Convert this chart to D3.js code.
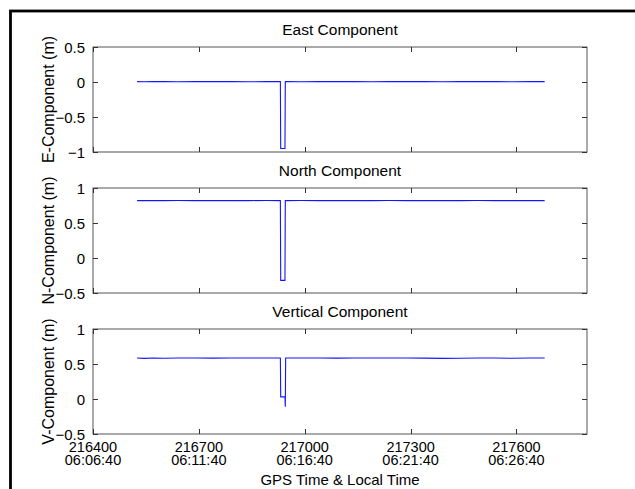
<!DOCTYPE html>
<html>
<head>
<meta charset="utf-8">
<script src="https://cdn.jsdelivr.net/npm/d3@7"></script>
<style>
  html, body { margin: 0; padding: 0; background: #fff; }
  svg { display: block; }
  text { font-family: "Liberation Sans", Arial, Helvetica, sans-serif; fill: #000; }
</style>
</head>
<body>
<svg id="chart" width="635" height="489"></svg>
<script>
// GPS time of each sample (seconds of week)
const gpsTime = [216525, 216545, 216570, 216600, 216640, 216690, 216740, 216790, 216840, 216890,
                 216931, 216932, 216944, 216945, 216946, 216990, 217040, 217090, 217140, 217190,
                 217240, 217290, 217340, 217390, 217440, 217490, 217540, 217590, 217640, 217680];

// Position components (m)
const eastValues = [0.005, 0.004, 0.006, 0.005, 0.004, 0.005, 0.006, 0.005, 0.004, 0.005,
                    0.005, -0.95, -0.95, 0.005, 0.005, 0.004, 0.005, 0.006, 0.005, 0.004,
                    0.005, 0.006, 0.005, 0.004, 0.005, 0.006, 0.005, 0.004, 0.005, 0.005];
const northValues = [0.82, 0.821, 0.819, 0.82, 0.821, 0.82, 0.819, 0.82, 0.82, 0.821,
                     0.82, -0.32, -0.32, 0.82, 0.82, 0.821, 0.82, 0.819, 0.82, 0.82,
                     0.821, 0.82, 0.819, 0.82, 0.82, 0.821, 0.82, 0.819, 0.82, 0.82];
const verticalValues = [0.585, 0.58, 0.586, 0.583, 0.585, 0.586, 0.584, 0.585, 0.586, 0.585,
                        0.585, 0.03, 0.03, -0.11, 0.585, 0.586, 0.585, 0.584, 0.586, 0.585,
                        0.585, 0.586, 0.584, 0.58, 0.583, 0.585, 0.586, 0.582, 0.585, 0.585];

// Axis ticks and labels
const xTicks = [216400, 216700, 217000, 217300, 217600];
const localTimeLabels = ["06:06:40", "06:11:40", "06:16:40", "06:21:40", "06:26:40"];
const xDomain = [216400, 217800];

const panelTitles = ["East Component", "North Component", "Vertical Component"];
const yLabels = ["E-Component (m)", "N-Component (m)", "V-Component (m)"];
const yDomains = [[-1, 0.5], [-0.5, 1], [-0.5, 1]];
const yTicks = [[-1, -0.5, 0, 0.5], [-0.5, 0, 0.5, 1], [-0.5, 0, 0.5, 1]];
const xAxisTitle = "GPS Time & Local Time";

const series = [eastValues, northValues, verticalValues];

// Layout
const left = 93, plotW = 494, plotH = 105;
const tops = [47, 188, 329];
const tickLen = 5;

const svg = d3.select("#chart");

// Outer frame
svg.append("rect")
  .attr("x", 10.5).attr("y", 11)
  .attr("width", 700).attr("height", 600)
  .attr("fill", "none").attr("stroke", "#000").attr("stroke-width", 2.8);

const x = d3.scaleLinear().domain(xDomain).range([left, left + plotW]);

series.forEach((vals, i) => {
  const top = tops[i];
  const y = d3.scaleLinear().domain(yDomains[i]).range([top + plotH, top]);
  const g = svg.append("g");

  // Data line
  const line = d3.line().x((d, k) => x(gpsTime[k])).y(d => y(d));
  g.append("path")
    .datum(vals)
    .attr("d", line)
    .attr("fill", "none")
    .attr("stroke", "#1414ff")
    .attr("stroke-width", 1.1);

  // Box
  g.append("rect")
    .attr("x", left).attr("y", top)
    .attr("width", plotW).attr("height", plotH)
    .attr("fill", "none").attr("stroke", "#555").attr("stroke-width", 1);

  // X ticks (inward, bottom and top)
  const xt = g.append("g").attr("stroke", "#333").attr("stroke-width", 1);
  xTicks.forEach(t => {
    const px = Math.round(x(t)) + 0.5;
    xt.append("line").attr("x1", px).attr("x2", px).attr("y1", top + plotH).attr("y2", top + plotH - tickLen);
    xt.append("line").attr("x1", px).attr("x2", px).attr("y1", top).attr("y2", top + tickLen);
  });

  // Y axis with inward ticks and labels
  const yAxis = d3.axisLeft(y).tickValues(yTicks[i]).tickSize(-tickLen).tickPadding(8)
    .tickFormat(d3.format("~g"));
  const ya = g.append("g").attr("transform", `translate(${left},0)`).call(yAxis);
  ya.select(".domain").remove();
  ya.selectAll(".tick line").attr("stroke", "#333");
  ya.selectAll(".tick text")
    .style("font-family", "'Liberation Sans', Arial, sans-serif")
    .style("font-size", "15px").attr("fill", "#000").attr("dy", "0.34em");
  const yr = g.append("g").attr("transform", `translate(${left + plotW},0)`)
    .call(d3.axisRight(y).tickValues(yTicks[i]).tickSize(-tickLen).tickFormat(""));
  yr.select(".domain").remove();
  yr.selectAll(".tick line").attr("stroke", "#333");

  // Panel title
  g.append("text")
    .attr("x", left + plotW / 2).attr("y", top - 12)
    .attr("text-anchor", "middle")
    .style("font-size", "15.5px")
    .text(panelTitles[i]);

  // Y label
  g.append("text")
    .attr("transform", `translate(54,${top + plotH / 2}) rotate(-90)`)
    .attr("text-anchor", "middle")
    .style("font-size", "16px")
    .text(yLabels[i]);

  // X tick labels on the bottom panel: GPS seconds over local clock time
  if (i === series.length - 1) {
    xTicks.forEach((t, k) => {
      const tx = g.append("text")
        .attr("x", x(t)).attr("text-anchor", "middle")
        .style("font-size", "14.5px");
      tx.append("tspan").attr("x", x(t)).attr("y", top + plotH + 17.5).text(t);
      tx.append("tspan").attr("x", x(t)).attr("y", top + plotH + 31).text(localTimeLabels[k]);
    });
    g.append("text")
      .attr("x", left + plotW / 2).attr("y", 485)
      .attr("text-anchor", "middle")
      .style("font-size", "15px")
      .text(xAxisTitle);
  }
});
</script>
</body>
</html>
